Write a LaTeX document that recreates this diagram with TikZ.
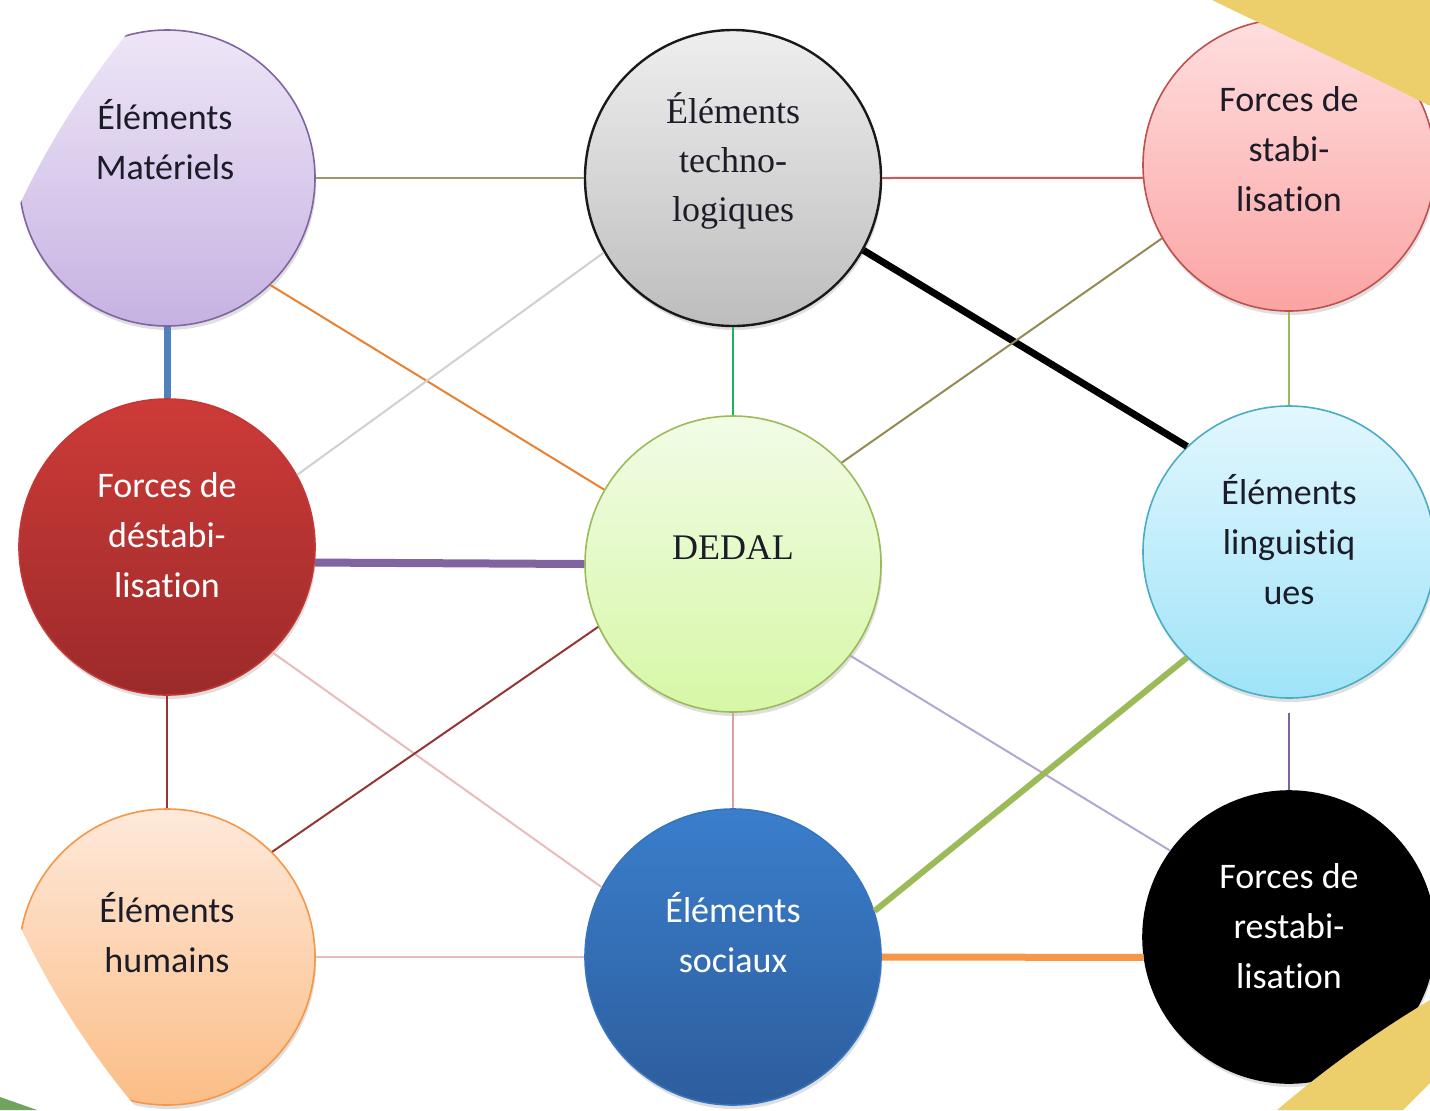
\documentclass[tikz,border=0pt]{standalone}
\usepackage{fontspec}
\setmainfont{Carlito}[Ligatures=NoCommon]
\newfontfamily\serifgar{Liberation Serif}
\usetikzlibrary{shadows}

% circle colours
\definecolor{matTop}{HTML}{EEE6F7}
\definecolor{matBot}{HTML}{C6B2E2}
\definecolor{matLine}{HTML}{8064A2}
\definecolor{techTop}{HTML}{EEEEEE}
\definecolor{techBot}{HTML}{BDBDBD}
\definecolor{stabTop}{HTML}{FFDEDF}
\definecolor{stabBot}{HTML}{FBA4A3}
\definecolor{stabLine}{HTML}{C0504D}
\definecolor{destabTop}{HTML}{CD3B38}
\definecolor{destabBot}{HTML}{9C2A2A}
\definecolor{dedalTop}{HTML}{F1FCE6}
\definecolor{dedalBot}{HTML}{D7F7A6}
\definecolor{dedalLine}{HTML}{9BBB59}
\definecolor{lingTop}{HTML}{E2F7FE}
\definecolor{lingBot}{HTML}{9FE3F8}
\definecolor{lingLine}{HTML}{4BACC6}
\definecolor{humTop}{HTML}{FEE9DA}
\definecolor{humBot}{HTML}{FBBD86}
\definecolor{humLine}{HTML}{F79646}
\definecolor{socTop}{HTML}{3A7ECC}
\definecolor{socBot}{HTML}{2D5D9C}
\definecolor{txtDark}{HTML}{1C1C28}
% link colours
\definecolor{linkOlive}{HTML}{9D9966}
\definecolor{linkRed}{HTML}{D25757}
\definecolor{linkBlue}{HTML}{4F81BD}
\definecolor{linkOrange}{HTML}{E9812F}
\definecolor{linkGray}{HTML}{D0D0D0}
\definecolor{linkGreen}{HTML}{1DB35B}
\definecolor{linkLime}{HTML}{9BBB59}
\definecolor{linkTan}{HTML}{948A54}
\definecolor{linkPurple}{HTML}{8064A2}
\definecolor{linkMaroon}{HTML}{943634}
\definecolor{linkPink}{HTML}{E8BCBC}
\definecolor{linkSalmon}{HTML}{DFA0A0}
\definecolor{linkLavender}{HTML}{B4A6D4}
\definecolor{linkVioletB}{HTML}{7E62A8}
\definecolor{linkPeach}{HTML}{F79646}
% page decoration
\definecolor{decoYellow}{HTML}{ECCF6A}
\definecolor{decoGreen}{HTML}{6FA35E}

\tikzset{every picture/.style={line width=0.75pt}}
\tikzset{
  bubble/.style={circle, inner sep=0pt, minimum size=148pt, line width=0.8pt,
    drop shadow={opacity=0.25, shadow xshift=0.6pt, shadow yshift=-2pt}},
  smallbubble/.style={bubble, minimum size=146pt},
  bubbletxt/.style={align=center, font=\fontsize{18}{25}\selectfont, text=txtDark},
  link/.style={line width=1pt},
  biglink/.style={line width=3.5pt},
}

\begin{document}
\begin{tikzpicture}[x=0.5pt,y=0.5pt,yscale=-1]
\useasboundingbox (0,0) rectangle (1430,1110);

%Circles
\node [bubble, draw=matLine, top color=matTop, bottom color=matBot] (mat) at (167,178) {};
\node [bubble, draw=black!90, line width=1.2pt, top color=techTop, bottom color=techBot] (tech) at (733,178) {};
\node [smallbubble, draw=stabLine, top color=stabTop, bottom color=stabBot] (stab) at (1289,165) {};
\node [bubble, draw=destabTop!80!destabBot, top color=destabTop, bottom color=destabBot] (destab) at (167,547) {};
\node [bubble, draw=dedalLine, top color=dedalTop, bottom color=dedalBot] (dedal) at (733,564) {};
\node [smallbubble, draw=lingLine, top color=lingTop, bottom color=lingBot] (ling) at (1289,552) {};
\node [bubble, draw=humLine, top color=humTop, bottom color=humBot] (hum) at (167,957) {};
\node [bubble, draw=socTop!70!socBot, top color=socTop, bottom color=socBot] (soc) at (733,957) {};
\node [smallbubble, draw=black, fill=black] (restab) at (1289,937) {};

%Straight Lines
\draw [link, linkOlive] (mat.east) -- (tech.west);
\draw [link, linkRed] (tech.east) -- (stab.185);
\draw [biglink, linkBlue] (mat.south) -- (destab.north);
\draw [link, linkOrange] (mat.-46) -- (dedal.150);
\draw [link, linkGray] (tech.210) -- (destab.29);
\draw [link, linkGreen] (tech.south) -- (dedal.north);
\draw [biglink, black] (tech.-29) -- (ling.134);
\draw [link, linkLime] (stab.south) -- (ling.north);
\draw [link, linkTan] (stab.210) -- (dedal.43);
\draw [biglink, line width=4pt, linkPurple] (destab.-6) -- (dedal.180);
\draw [link, linkMaroon] (destab.south) -- (hum.north);
\draw [link, linkPink] (destab.-45) -- (soc.152);
\draw [link, linkMaroon] (dedal.205) -- (hum.45);
\draw [link, linkSalmon] (dedal.south) -- (soc.north);
\draw [link, linkLavender] (dedal.-38) -- (restab.144);
\draw [link, linkVioletB, shorten <=7pt] (ling.south) -- (restab.north);
\draw [biglink, line width=3pt, linkLime] (ling.226) -- (soc.18);
\draw [link, linkPink] (hum.east) -- (soc.west);
\draw [biglink, linkPeach] (soc.east) -- (restab.188);

%Page decoration
\fill [white, even odd rule] (-20,-20) rectangle (1450,1130) (784,565) circle [radius=845];
\fill [decoYellow] (1212,0) .. controls (1290,38) and (1370,75) .. (1430,106) -- (1430,0) -- cycle;
\fill [decoYellow] (1277,1110) .. controls (1330,1065) and (1380,1030) .. (1430,1000) -- (1430,1083) -- (1403,1110) -- cycle;
\fill [decoGreen] (0,1097) -- (37,1110) -- (0,1110) -- cycle;

% Text Node
\node [bubbletxt] (mat-txt) at (165,140) {Éléments\\Matériels};
\node [bubbletxt, font=\serifgar\fontsize{18}{24.5}\selectfont] (tech-txt) at (733,161) {Éléments\\techno-\\logiques};
\node [bubbletxt] (stab-txt) at (1289,149) {Forces de\\stabi-\\lisation};
\node [bubbletxt, text=white] (destab-txt) at (167,535) {Forces de\\déstabi-\\lisation};
\node [bubbletxt, font=\serifgar\fontsize{18}{24.5}\selectfont] (dedal-txt) at (733,548) {DEDAL};
\node [bubbletxt] (ling-txt) at (1289,540) {Éléments\\linguistiq\\ues};
\node [bubbletxt] (hum-txt) at (167,933) {Éléments\\humains};
\node [bubbletxt, text=white] (soc-txt) at (733,933) {Éléments\\sociaux};
\node [bubbletxt, text=white] (restab-txt) at (1289,926) {Forces de\\restabi-\\lisation};

\end{tikzpicture}
\end{document}
